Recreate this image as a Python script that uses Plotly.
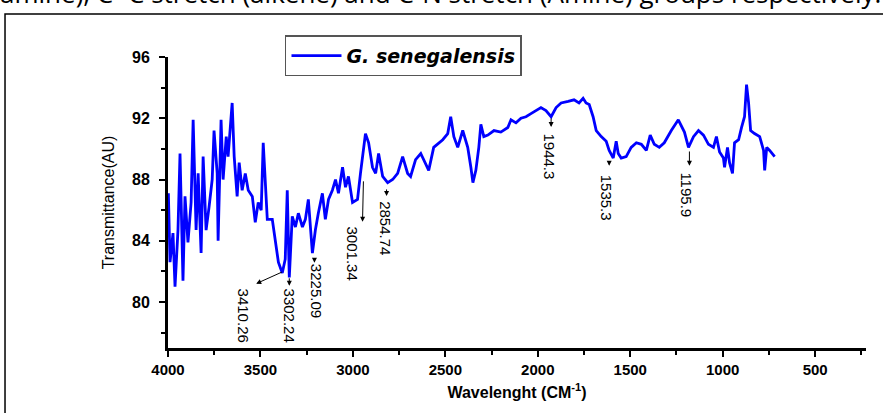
import plotly.graph_objects as go

# ---- spectrum data ----
wavenumber = [3998, 3989, 3973, 3962, 3946, 3935, 3919, 3908, 3892, 3875, 3864, 3848, 3837, 3821,
              3810, 3794, 3778, 3761, 3751, 3734, 3729, 3713, 3702, 3685, 3675, 3653, 3642, 3626,
              3615, 3599, 3582, 3566, 3544, 3528, 3512, 3496, 3485, 3474, 3463, 3436, 3420, 3403,
              3382, 3366, 3355, 3344, 3328, 3311, 3295, 3273, 3257, 3241, 3219, 3203, 3187, 3165,
              3149, 3132, 3111, 3094, 3078, 3056, 3040, 3024, 3002, 2975, 2959, 2948, 2932, 2915,
              2894, 2877, 2861, 2839, 2812, 2785, 2758, 2731, 2704, 2688, 2661, 2633, 2617, 2590,
              2563, 2536, 2514, 2487, 2471, 2454, 2433, 2406, 2379, 2362, 2351, 2335, 2319, 2308,
              2292, 2270, 2237, 2200, 2162, 2145, 2118, 2091, 2064, 2037, 2010, 1983, 1956, 1928,
              1901, 1874, 1836, 1804, 1777, 1755, 1739, 1722, 1701, 1684, 1657, 1630, 1614, 1592,
              1576, 1565, 1549, 1522, 1495, 1467, 1440, 1413, 1392, 1370, 1343, 1316, 1278, 1240,
              1207, 1185, 1158, 1131, 1104, 1077, 1050, 1034, 1017, 996, 990, 974, 963, 947, 936,
              914, 898, 882, 871, 860, 849, 828, 800, 779, 773, 762, 746, 719]
transmittance = [87.1, 82.6, 84.5, 81.0, 84.7, 89.7, 81.4, 86.9, 83.9, 86.5, 91.9, 84.7, 88.4, 83.2,
                 89.5, 84.7, 86.2, 88.0, 91.2, 88.4, 84.0, 91.9, 88.0, 90.8, 89.5, 93.0, 89.5, 86.9,
                 89.1, 87.3, 88.4, 87.3, 86.9, 85.2, 86.5, 86.0, 90.4, 87.5, 85.4, 85.4, 84.1, 82.6,
                 81.9, 82.8, 87.3, 81.6, 85.6, 84.9, 85.8, 84.9, 85.4, 86.7, 83.2, 84.7, 85.8, 87.1,
                 85.4, 86.7, 87.3, 88.0, 87.1, 88.8, 87.5, 88.2, 86.5, 86.7, 88.4, 89.5, 91.0, 90.4,
                 88.8, 88.4, 89.7, 88.2, 87.8, 88.0, 88.4, 89.5, 88.4, 88.2, 89.3, 89.7, 89.3, 88.6,
                 90.1, 90.4, 90.6, 91.0, 92.1, 90.8, 90.1, 91.2, 90.1, 88.8, 87.8, 88.6, 90.1, 91.6,
                 90.8, 90.9, 91.2, 91.1, 91.4, 91.9, 91.7, 92.0, 92.1, 92.3, 92.5, 92.7, 92.5, 92.1,
                 92.7, 93.0, 93.1, 93.2, 93.0, 93.3, 93.0, 92.9, 92.1, 91.2, 90.8, 90.5, 89.9, 89.4,
                 90.5, 89.7, 89.4, 89.5, 90.1, 90.4, 90.3, 89.9, 90.9, 90.3, 90.1, 90.4, 91.2, 91.9,
                 91.1, 90.1, 90.8, 91.2, 90.9, 90.3, 90.1, 90.8, 89.8, 89.4, 88.8, 90.1, 89.1, 88.4, 90.4,
                 90.6, 91.4, 92.1, 94.2, 93.0, 91.2, 91.0, 90.8, 89.9, 88.6, 90.1, 89.9, 89.5]

series_name = "G. senegalensis"

# ---- peak labels ----
peak_labels = ["3410.26", "3302.24", "3225.09", "3001.34", "2854.74", "1944.3", "1535.3", "1195.9"]
label_x = [3593, 3344, 3197, 3002, 2823, 1939, 1630, 1196]
label_y = [79.1, 79.1, 80.7, 83.2, 84.85, 89.5, 86.8, 87.0]
arrow_tail_x = [3376, 3344, 3208, 2943, 2818, 1928, 1614, 1180]
arrow_tail_y = [82.0, 81.65, 82.95, 87.98, 87.45, 92.09, 89.28, 89.93]
arrow_head_x = [3523, 3344, 3208, 2948, 2818, 1928, 1614, 1180]
arrow_head_y = [81.2, 81.06, 82.56, 85.24, 86.93, 91.43, 88.9, 88.9]

x_ticks = [4000, 3500, 3000, 2500, 2000, 1500, 1000, 500]
y_ticks = [80, 84, 88, 92, 96]

fig = go.Figure()
fig.add_trace(go.Scatter(x=wavenumber, y=transmittance, mode="lines",
                         name="<b><i>" + series_name + "</i></b>",
                         line=dict(color="#0000FF", width=2.8)))

annotations = []
for lab, lx, ly in zip(peak_labels, label_x, label_y):
    annotations.append(dict(x=lx, y=ly, xref="x", yref="y", text=lab, showarrow=False,
                            textangle=90, font=dict(family="Arial", size=15, color="black")))
for tx, ty, hx, hy in zip(arrow_tail_x, arrow_tail_y, arrow_head_x, arrow_head_y):
    annotations.append(dict(x=hx, y=hy, xref="x", yref="y", ax=tx, ay=ty, axref="x", ayref="y",
                            text="", showarrow=True, arrowhead=2, arrowsize=1, arrowwidth=1,
                            arrowcolor="black", standoff=0, startstandoff=0))
# caption fragment cut off at top of the picture
annotations.append(dict(x=0.5, y=1, xref="paper", yref="paper", xanchor="center", yanchor="bottom",
                        yshift=44, xshift=-77,
                        text="amine), C=C stretch (alkene) and C-N stretch (Amine) groups respectively.",
                        showarrow=False, font=dict(family="Open Sans", size=26, color="black")))

shapes = [dict(type="rect", xref="paper", yref="paper", x0=-0.2335, x1=1.06, y0=-0.3, y1=1.148,
               line=dict(color="black", width=1.5), fillcolor="rgba(0,0,0,0)", layer="below")]

fig.update_layout(
    width=883, height=413,
    margin=dict(l=168, r=17, t=57, b=65, autoexpand=False),
    paper_bgcolor="white", plot_bgcolor="white",
    showlegend=True,
    legend=dict(x=0.1676, y=1.075, xanchor="left", yanchor="top",
                bordercolor="#555555", borderwidth=1.5, bgcolor="white",
                font=dict(family="DejaVu Sans", size=19, color="black"),
                itemwidth=50),
    annotations=annotations,
    shapes=shapes,
    xaxis=dict(range=[4000, 225], tickvals=x_ticks, ticktext=[str(v) for v in x_ticks],
               showline=True, linecolor="black", linewidth=3, ticks="outside", ticklen=6,
               tickwidth=2, tickcolor="black", showgrid=False, zeroline=False,
               tickfont=dict(family="Arial", size=15, color="black", weight="bold"),
               minor=dict(dtick=250, ticks="outside", ticklen=4, tickwidth=2, tickcolor="black"),
               title=dict(text="<b>Wavelenght (CM<sup>-1</sup>)</b>", standoff=10,
                          font=dict(family="Arial", size=16, color="black"))),
    yaxis=dict(range=[77, 96], tickvals=y_ticks, ticktext=[str(v) for v in y_ticks],
               showline=True, linecolor="black", linewidth=3, ticks="outside", ticklen=6,
               tickwidth=2, tickcolor="black", showgrid=False, zeroline=False,
               ticklabelstandoff=6,
               tickfont=dict(family="Arial", size=16, color="black", weight="bold"),
               minor=dict(dtick=2, ticks="outside", ticklen=4, tickwidth=2, tickcolor="black"),
               title=dict(text="Transmittance(AU)", standoff=14,
                          font=dict(family="Arial", size=16, color="black"))),
)
fig.write_html("out.html")
